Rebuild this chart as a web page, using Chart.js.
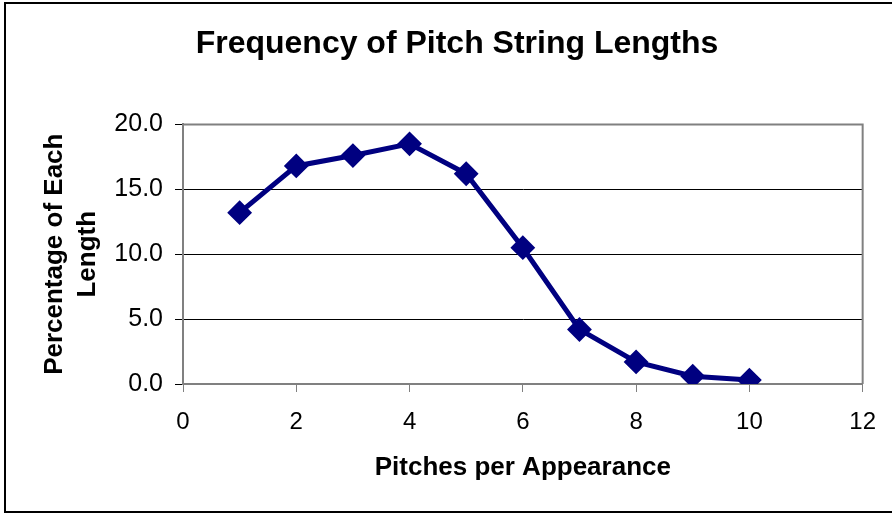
<!DOCTYPE html>
<html>
<head>
<meta charset="utf-8">
<script src="https://cdn.jsdelivr.net/npm/chart.js@4.4.1/dist/chart.umd.min.js"></script>
<style>
  html, body { margin: 0; padding: 0; background: #fff; }
  #wrap { width: 892px; height: 514px; }
</style>
</head>
<body>
<div id="wrap"><canvas id="pitchChart" width="892" height="514"></canvas></div>
<script>
const pitches = [1, 2, 3, 4, 5, 6, 7, 8, 9, 10];
const percentages = [13.2, 16.8, 17.6, 18.5, 16.2, 10.5, 4.2, 1.7, 0.6, 0.3];
const xTicks = [0, 2, 4, 6, 8, 10, 12];
const yTicks = [0, 5, 10, 15, 20];

const FONT = "'Liberation Sans', Arial, sans-serif";
const GRAY = '#808080';

// frame around the picture and grey box round the plot
const framePlugin = {
  id: 'frame',
  beforeDatasetsDraw(chart) {
    const { ctx, chartArea: a } = chart;
    ctx.save();
    ctx.strokeStyle = GRAY;
    ctx.lineWidth = 2;
    ctx.beginPath();
    ctx.moveTo(a.left, a.top);
    ctx.lineTo(a.right, a.top);
    ctx.lineTo(a.right, a.bottom);
    ctx.stroke();
    ctx.restore();
  },
  afterDraw(chart) {
    const ctx = chart.ctx;
    ctx.save();
    ctx.strokeStyle = '#000';
    ctx.lineWidth = 2;
    ctx.beginPath();
    ctx.moveTo(900, 3);
    ctx.lineTo(5, 3);
    ctx.lineTo(5, 512);
    ctx.lineTo(900, 512);
    ctx.stroke();
    ctx.restore();
  }
};

const chart = new Chart(document.getElementById('pitchChart'), {
  type: 'scatter',
  data: {
    datasets: [{
      data: pitches.map((x, i) => ({ x: x, y: percentages[i] })),
      showLine: true,
      borderColor: '#000080',
      backgroundColor: '#000080',
      borderWidth: 5,
      pointStyle: 'rectRot',
      pointRadius: 11,
      pointBorderWidth: 2,
      pointHoverRadius: 11
    }]
  },
  options: {
    responsive: false,
    animation: false,
    events: [],
    layout: { padding: { left: 46, right: 24, top: 0, bottom: 0 } },
    plugins: {
      legend: { display: false },
      tooltip: { enabled: false },
      title: {
        display: true,
        text: 'Frequency of Pitch String Lengths',
        color: '#000',
        font: { family: FONT, size: 32, weight: 'bold', lineHeight: 1.2 },
        padding: { top: 25, bottom: 61 }
      }
    },
    scales: {
      x: {
        type: 'linear',
        min: 0,
        max: 12,
        afterBuildTicks: s => { s.ticks = xTicks.map(v => ({ value: v })); },
        afterFit: s => { s.height = 130; },
        border: { color: GRAY, width: 2 },
        grid: { drawOnChartArea: false, drawTicks: true, tickLength: 8, color: GRAY },
        ticks: { color: '#000', padding: 16, font: { family: FONT, size: 24 } },
        title: {
          display: true,
          text: 'Pitches per Appearance',
          color: '#000',
          font: { family: FONT, size: 26, weight: 'bold', lineHeight: 1.2 },
          padding: { top: 0, bottom: 31 }
        }
      },
      y: {
        min: 0,
        max: 20,
        afterBuildTicks: s => { s.ticks = yTicks.map(v => ({ value: v })); },
        afterFit: s => { s.width = 137; },
        border: { color: GRAY, width: 2 },
        grid: {
          color: c => (c.tick && (c.tick.value === 0 || c.tick.value === 20)) ? GRAY : '#000',
          tickColor: '#000',
          tickLength: 8
        },
        ticks: {
          color: '#000',
          padding: 12,
          font: { family: FONT, size: 25 },
          callback: v => v.toFixed(1)
        },
        title: {
          display: true,
          text: ['Percentage of Each', 'Length'],
          color: '#000',
          font: { family: FONT, size: 26, weight: 'bold', lineHeight: 1.27 },
          padding: { top: -7.5, bottom: 0 }
        }
      }
    }
  },
  plugins: [framePlugin]
});
</script>
</body>
</html>
